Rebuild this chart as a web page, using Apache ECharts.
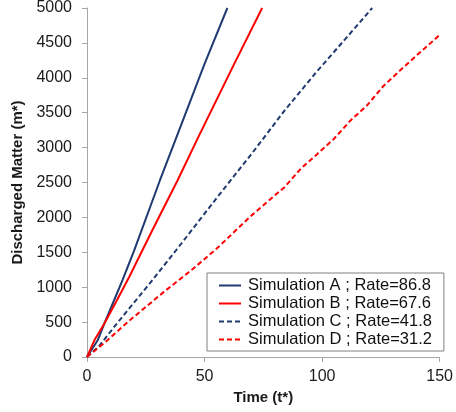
<!DOCTYPE html>
<html>
<head>
<meta charset="utf-8">
<script src="https://cdn.jsdelivr.net/npm/echarts@6/dist/echarts.min.js"></script>
<style>html,body{margin:0;padding:0;background:#fff}#c{width:456px;height:412px}</style>
</head>
<body>
<div id="c"></div>
<script>
var seriesNames = ['Simulation A ; Rate=86.8', 'Simulation B ; Rate=67.6', 'Simulation C ; Rate=41.8', 'Simulation D ; Rate=31.2'];
var xTicks = [0, 50, 100, 150];
var yTicks = [0, 500, 1000, 1500, 2000, 2500, 3000, 3500, 4000, 4500, 5000];

var aT = [0, 4.6, 7.4, 11, 15.1, 20, 31, 40.8, 50, 59.7];
var aV = [0, 243, 481, 770, 1100, 1520, 2529, 3390, 4200, 5000];

var bT = [0, 3.2, 7.4, 12.5, 18, 28, 38.5, 47.5, 62.2, 74.5];
var bV = [0, 243, 481, 800, 1150, 1830, 2529, 3160, 4171, 5000];

var cT = [0, 5, 12, 27.8, 40, 56, 70, 84, 98, 110, 121.3];
var cV = [0, 150, 450, 1100, 1620, 2314, 2910, 3529, 4100, 4560, 5000];

var dT = [0, 8, 18, 32.7, 45, 55.9, 70, 84, 91, 98, 105, 112, 119, 126, 133, 140, 150];
var dV = [0, 220, 520, 933, 1260, 1576, 2029, 2433, 2700, 2910, 3124, 3386, 3600, 3880, 4100, 4314, 4614];

function pairs(t, v) { return t.map(function (x, i) { return [x, v[i]]; }); }

var navy = '#1f3a70';
var red = '#ff0000';
var font = 'Liberation Sans';

var chart = echarts.init(document.getElementById('c'));
chart.setOption({
  animation: false,
  backgroundColor: '#ffffff',
  grid: { left: 87, right: 12, top: 7, bottom: 55 },
  xAxis: {
    type: 'value', min: xTicks[0], max: xTicks[xTicks.length - 1], interval: 50,
    name: 'Time (t*)', nameLocation: 'middle', nameGap: 31,
    nameTextStyle: { fontFamily: font, fontSize: 15, fontWeight: 'bold', color: '#1a1a1a' },
    axisLine: { lineStyle: { color: '#a6a6a6', width: 1 } },
    axisTick: { show: true, length: 5, lineStyle: { color: '#a6a6a6' } },
    axisLabel: { fontFamily: font, fontSize: 16, color: '#1a1a1a', margin: 12, formatter: function (v) { return String(v); } },
    splitLine: { show: false }
  },
  yAxis: {
    type: 'value', min: yTicks[0], max: yTicks[yTicks.length - 1], interval: 500,
    name: 'Discharged Matter (m*)', nameLocation: 'middle', nameGap: 58,
    nameTextStyle: { fontFamily: font, fontSize: 15, fontWeight: 'bold', color: '#1a1a1a' },
    axisLine: { show: true, lineStyle: { color: '#a6a6a6', width: 1 } },
    axisTick: { show: true, length: 5, lineStyle: { color: '#a6a6a6' } },
    axisLabel: { fontFamily: font, fontSize: 16, color: '#1a1a1a', margin: 15, formatter: function (v) { return String(v); } },
    splitLine: { show: false }
  },
  legend: {
    orient: 'vertical', left: 207, top: 273,
    padding: [4, 12, 3, 11],
    itemWidth: 22, itemHeight: 14, itemGap: 1,
    borderColor: '#808080', borderWidth: 1, backgroundColor: '#ffffff',
    itemStyle: { opacity: 0 },
    textStyle: { fontFamily: font, fontSize: 16.5, color: '#111', lineHeight: 15, padding: [0, 0, 0, 2] },
    data: seriesNames
  },
  series: [
    { name: seriesNames[0], type: 'line', data: pairs(aT, aV), symbol: 'none', lineStyle: { color: navy, width: 2 }, itemStyle: { color: navy } },
    { name: seriesNames[1], type: 'line', data: pairs(bT, bV), symbol: 'none', lineStyle: { color: red, width: 2 }, itemStyle: { color: red } },
    { name: seriesNames[2], type: 'line', data: pairs(cT, cV), symbol: 'none', lineStyle: { color: navy, width: 2, type: [5, 3] }, itemStyle: { color: navy } },
    { name: seriesNames[3], type: 'line', data: pairs(dT, dV), symbol: 'none', lineStyle: { color: red, width: 2, type: [5, 3] }, itemStyle: { color: red } }
  ]
});
</script>
</body>
</html>
